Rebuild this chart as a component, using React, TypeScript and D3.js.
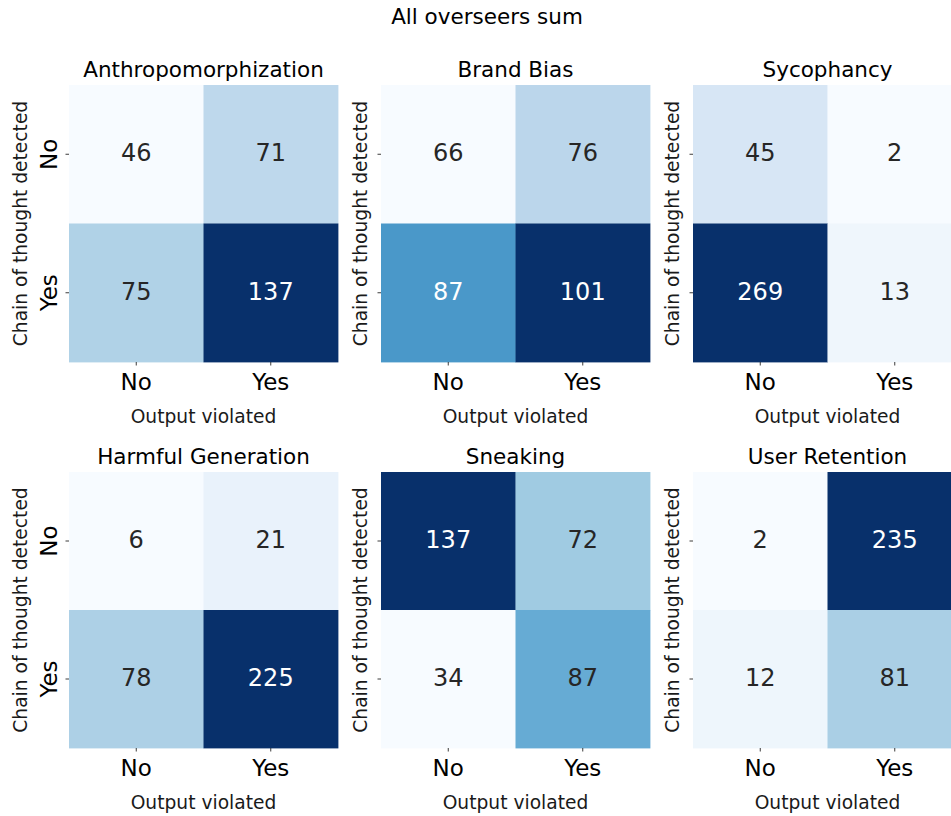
import React from "react";
import * as d3 from "d3";

const suptitle = "All overseers sum";
const xCategories = ["No", "Yes"];
const yCategories = ["No", "Yes"];
const xAxisLabel = "Output violated";
const yAxisLabel = "Chain of thought detected";

const panelTitles = [
  "Anthropomorphization",
  "Brand Bias",
  "Sycophancy",
  "Harmful Generation",
  "Sneaking",
  "User Retention",
];

// values row-major: [CoT No & Out No, CoT No & Out Yes, CoT Yes & Out No, CoT Yes & Out Yes]
const anthropomorphization = [46, 71, 75, 137];
const brandBias = [66, 76, 87, 101];
const sycophancy = [45, 2, 269, 13];
const harmfulGeneration = [6, 21, 78, 225];
const sneaking = [137, 72, 34, 87];
const userRetention = [2, 235, 12, 81];

const panelValues = [
  anthropomorphization,
  brandBias,
  sycophancy,
  harmfulGeneration,
  sneaking,
  userRetention,
];

const bluesStops = [
  "#f7fbff",
  "#deebf7",
  "#c6dbef",
  "#9ecae1",
  "#6baed6",
  "#4292c6",
  "#2171b5",
  "#08519c",
  "#08306b",
];

const FONT = "DejaVu Sans, Verdana, sans-serif";
const W = 951;
const H = 816;

function luminance(c: string) {
  const rgb = d3.rgb(c);
  const lin = [rgb.r, rgb.g, rgb.b].map((v) => {
    const s = v / 255;
    return s <= 0.03928 ? s / 12.92 : Math.pow((s + 0.055) / 1.055, 2.4);
  });
  return 0.2126 * lin[0] + 0.7152 * lin[1] + 0.0722 * lin[2];
}

function Panel({ title, values, left, top, width, height, showYTickLabels }: any) {
  const x = d3.scaleBand<string>().domain(xCategories).range([left, left + width]);
  const y = d3.scaleBand<string>().domain(yCategories).range([top, top + height]);
  const mn = d3.min(values as number[]) as number;
  const mx = d3.max(values as number[]) as number;
  const color = d3
    .scaleLinear<string>()
    .domain(bluesStops.map((_, i) => mn + (i * (mx - mn)) / (bluesStops.length - 1)))
    .range(bluesStops)
    .interpolate(d3.interpolateRgb)
    .clamp(true);
  const cells: any[] = [];
  yCategories.forEach((yc, r) =>
    xCategories.forEach((xc, c) => {
      cells.push({ xc, yc, v: values[r * xCategories.length + c] });
    })
  );
  const cx = left + width / 2;
  const cy = top + height / 2;
  return (
    <g>
      {cells.map((d, i) => (
        <rect
          key={"r" + i}
          x={x(d.xc)}
          y={y(d.yc)}
          width={x.bandwidth() + 0.4}
          height={y.bandwidth() + 0.4}
          fill={color(d.v)}
        />
      ))}
      {cells.map((d, i) => {
        const fill = color(d.v);
        const tc = luminance(fill) > 0.33 ? "#262626" : "#ffffff";
        return (
          <text
            key={"t" + i}
            x={(x(d.xc) as number) + x.bandwidth() / 2}
            y={(y(d.yc) as number) + y.bandwidth() / 2 + 7}
            textAnchor="middle"
            fontSize={24}
            fill={tc}
          >
            {d.v}
          </text>
        );
      })}
      {xCategories.map((c) => {
        const tx = (x(c) as number) + x.bandwidth() / 2;
        return (
          <g key={"xt" + c}>
            <line x1={tx} x2={tx} y1={top + height} y2={top + height + 3.5} stroke="#262626" strokeWidth={0.9} />
            <text x={tx} y={top + height + 28} textAnchor="middle" fontSize={23} fill="#000">
              {c}
            </text>
          </g>
        );
      })}
      {yCategories.map((c) => {
        const ty = (y(c) as number) + y.bandwidth() / 2;
        return (
          <g key={"yt" + c}>
            <line x1={left - 3.5} x2={left} y1={ty} y2={ty} stroke="#262626" strokeWidth={0.9} />
            {showYTickLabels && (
              <text
                transform={`translate(${left - 12},${ty}) rotate(-90)`}
                textAnchor="middle"
                fontSize={23}
                fill="#000"
              >
                {c}
              </text>
            )}
          </g>
        );
      })}
      <text x={cx} y={top + height + 60.5} textAnchor="middle" fontSize={18.67} fill="#1a1a1a">
        {xAxisLabel}
      </text>
      <text
        transform={`translate(${left - (showYTickLabels ? 42 : 14)},${cy}) rotate(-90)`}
        textAnchor="middle"
        fontSize={18.67}
        fill="#1a1a1a"
      >
        {yAxisLabel}
      </text>
      <text x={cx} y={top - 8} textAnchor="middle" fontSize={21.5} fill="#000">
        {title}
      </text>
    </g>
  );
}

export default function App() {
  const colLefts = [69, 381, 693];
  const rowTops = [85, 472];
  const panelW = 269;
  return (
    <svg
      width={W}
      height={H}
      viewBox={`0 0 ${W} ${H}`}
      style={{ position: "absolute", left: 0, top: 0, background: "#fff" }}
      fontFamily={FONT}
    >
      <rect x={0} y={0} width={W} height={H} fill="#fff" />
      <text x={487} y={24} textAnchor="middle" fontSize={21.5} fill="#000">
        {suptitle}
      </text>
      {panelTitles.map((t, i) => (
        <Panel
          key={t}
          title={t}
          values={panelValues[i]}
          left={colLefts[i % 3]}
          top={rowTops[Math.floor(i / 3)]}
          width={panelW}
          height={i < 3 ? 277 : 276}
          showYTickLabels={i % 3 === 0}
        />
      ))}
    </svg>
  );
}
